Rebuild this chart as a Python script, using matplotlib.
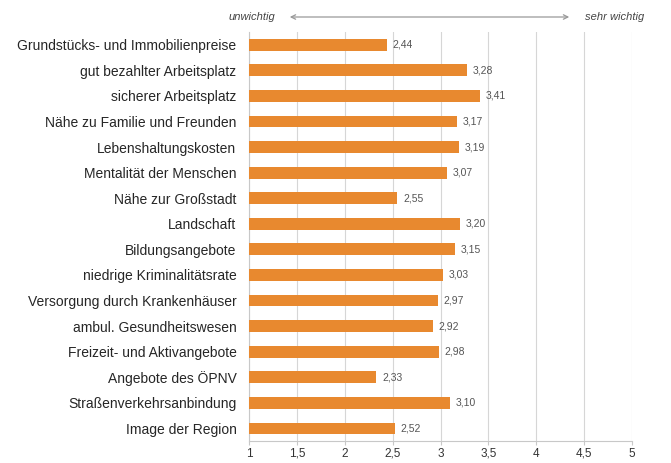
import matplotlib
matplotlib.use("Agg")
import matplotlib.pyplot as plt

categories = [
    "Grundstücks- und Immobilienpreise",
    "gut bezahlter Arbeitsplatz",
    "sicherer Arbeitsplatz",
    "Nähe zu Familie und Freunden",
    "Lebenshaltungskosten",
    "Mentalität der Menschen",
    "Nähe zur Großstadt",
    "Landschaft",
    "Bildungsangebote",
    "niedrige Kriminalitätsrate",
    "Versorgung durch Krankenhäuser",
    "ambul. Gesundheitswesen",
    "Freizeit- und Aktivangebote",
    "Angebote des ÖPNV",
    "Straßenverkehrsanbindung",
    "Image der Region",
]
values = [2.44, 3.28, 3.41, 3.17, 3.19, 3.07, 2.55, 3.20, 3.15, 3.03,
          2.97, 2.92, 2.98, 2.33, 3.10, 2.52]
xticks = [1, 1.5, 2, 2.5, 3, 3.5, 4, 4.5, 5]
xticklabels = ["1", "1,5", "2", "2,5", "3", "3,5", "4", "4,5", "5"]

plt.rcParams['font.family'] = ['Liberation Sans', 'DejaVu Sans']

fig = plt.figure(figsize=(6.71, 4.63), dpi=100)
ax = fig.add_axes([0.371, 0.047, 0.571, 0.884])

y = list(range(len(categories)))
ax.barh(y, [v - 1 for v in values], left=1, height=0.46, color="#E8892F", zorder=3)
for yi, v in zip(y, values):
    ax.text(v + 0.06, yi, f"{v:.2f}".replace(".", ","), va="center", ha="left",
            fontsize=7.5, color="#555555")

ax.set_xlim(1, 5)
ax.set_ylim(len(categories) - 0.5, -0.5)
ax.set_yticks(y)
ax.set_yticklabels(categories, fontsize=10, color="#262626")
ax.set_xticks(xticks)
ax.set_xticklabels(xticklabels, fontsize=8.5, color="#333333")
for lab in ax.get_xticklabels():
    lab.set_va("baseline")
ax.grid(axis="x", color="#d6d6d6", linewidth=0.8, zorder=0)
for s in ["top", "right"]:
    ax.spines[s].set_visible(False)
ax.spines["left"].set_color("#c8c8c8")
ax.spines["bottom"].set_color("#c8c8c8")
ax.tick_params(axis="y", length=0, pad=9)
ax.tick_params(axis="x", length=3, color="#c8c8c8", pad=8)

fig.text(275 / 671, 1 - 17 / 463, "unwichtig", style="italic", fontsize=8,
         color="#444444", ha="right", va="center")
fig.text(585 / 671, 1 - 17 / 463, "sehr wichtig", style="italic", fontsize=8,
         color="#444444", ha="left", va="center")
fig.add_artist(matplotlib.patches.FancyArrowPatch(
    (287 / 671, 1 - 17 / 463), (572 / 671, 1 - 17 / 463), transform=fig.transFigure,
    arrowstyle="<->", mutation_scale=8, color="#999999", linewidth=0.9))

fig.savefig("out.png", dpi=100)
